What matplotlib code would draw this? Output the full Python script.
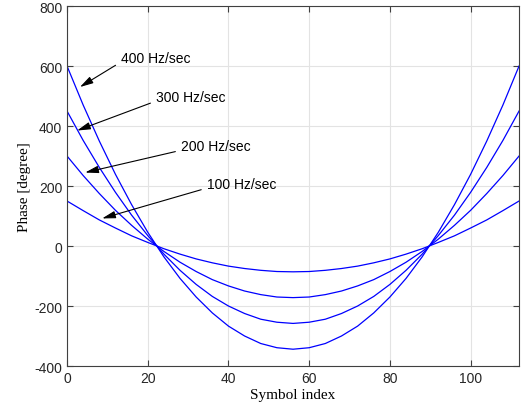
import matplotlib.pyplot as plt

# symbol index and phase curves
symbols = [0, 4, 8, 12, 16, 20, 24, 28, 32, 36, 40, 44, 48, 52, 56,
           60, 64, 68, 72, 76, 80, 84, 88, 92, 96, 100, 104, 108, 112]

phase_400 = [600, 470, 350, 239, 138, 46, -36, -108, -170, -223, -267, -300, -325, -339, -344,
             -339, -325, -300, -267, -223, -170, -108, -36, 46, 138, 239, 350, 470, 600]
phase_300 = [450, 352, 262, 179, 103, 35, -27, -81, -128, -168, -200, -225, -244, -254, -258,
             -254, -244, -225, -200, -168, -128, -81, -27, 35, 103, 179, 262, 352, 450]
phase_200 = [300, 235, 175, 119, 69, 23, -18, -54, -85, -112, -133, -150, -162, -170, -172,
             -170, -162, -150, -133, -112, -85, -54, -18, 23, 69, 119, 175, 235, 300]
phase_100 = [150, 118, 87, 60, 34, 12, -9, -27, -43, -56, -67, -75, -81, -85, -86,
             -85, -81, -75, -67, -56, -43, -27, -9, 12, 34, 60, 87, 118, 150]

labels = ["400 Hz/sec", "300 Hz/sec", "200 Hz/sec", "100 Hz/sec"]
arrow_tips = [(3.2, 530), (2.5, 385), (4.5, 245), (8.7, 92)]
text_pos = [(13.3, 627), (22.0, 497), (28.2, 333), (34.6, 207)]

plt.rcParams['font.family'] = ['Liberation Sans', 'DejaVu Sans']
plt.rcParams['axes.unicode_minus'] = False

fig = plt.figure(figsize=(5.29, 4.14), dpi=100)
ax = fig.add_axes([0.1267, 0.1135, 0.8545, 0.8695])

for ph in [phase_400, phase_300, phase_200, phase_100]:
    ax.plot(symbols, ph, color='#0000ff', lw=0.9)

for lab, tip, pos in zip(labels, arrow_tips, text_pos):
    ax.annotate(lab, xy=tip, xytext=pos, fontsize=10, ha='left', va='center',
                arrowprops=dict(arrowstyle='-|>,head_length=0.8,head_width=0.22',
                                color='black', lw=0.8, shrinkA=2, shrinkB=0,
                                relpos=(0, 0.2)))

ax.set_xlim(0, 112)
ax.set_ylim(-400, 800)
ax.set_xticks([0, 20, 40, 60, 80, 100])
ax.set_yticks([-400, -200, 0, 200, 400, 600, 800])
ax.grid(True, color='#e3e3e3', lw=0.8)
ax.set_axisbelow(True)
ax.tick_params(direction='in', top=True, right=True, labelsize=10,
               color='#404040', labelcolor='#262626', length=4)
for s in ax.spines.values():
    s.set_color('#404040')
    s.set_linewidth(0.8)

ax.set_xlabel("Symbol index", family='Liberation Serif', fontsize=11, labelpad=2)
ax.set_ylabel("Phase [degree]", family='Liberation Serif', fontsize=11, labelpad=2)

fig.savefig("out.png", dpi=100)
